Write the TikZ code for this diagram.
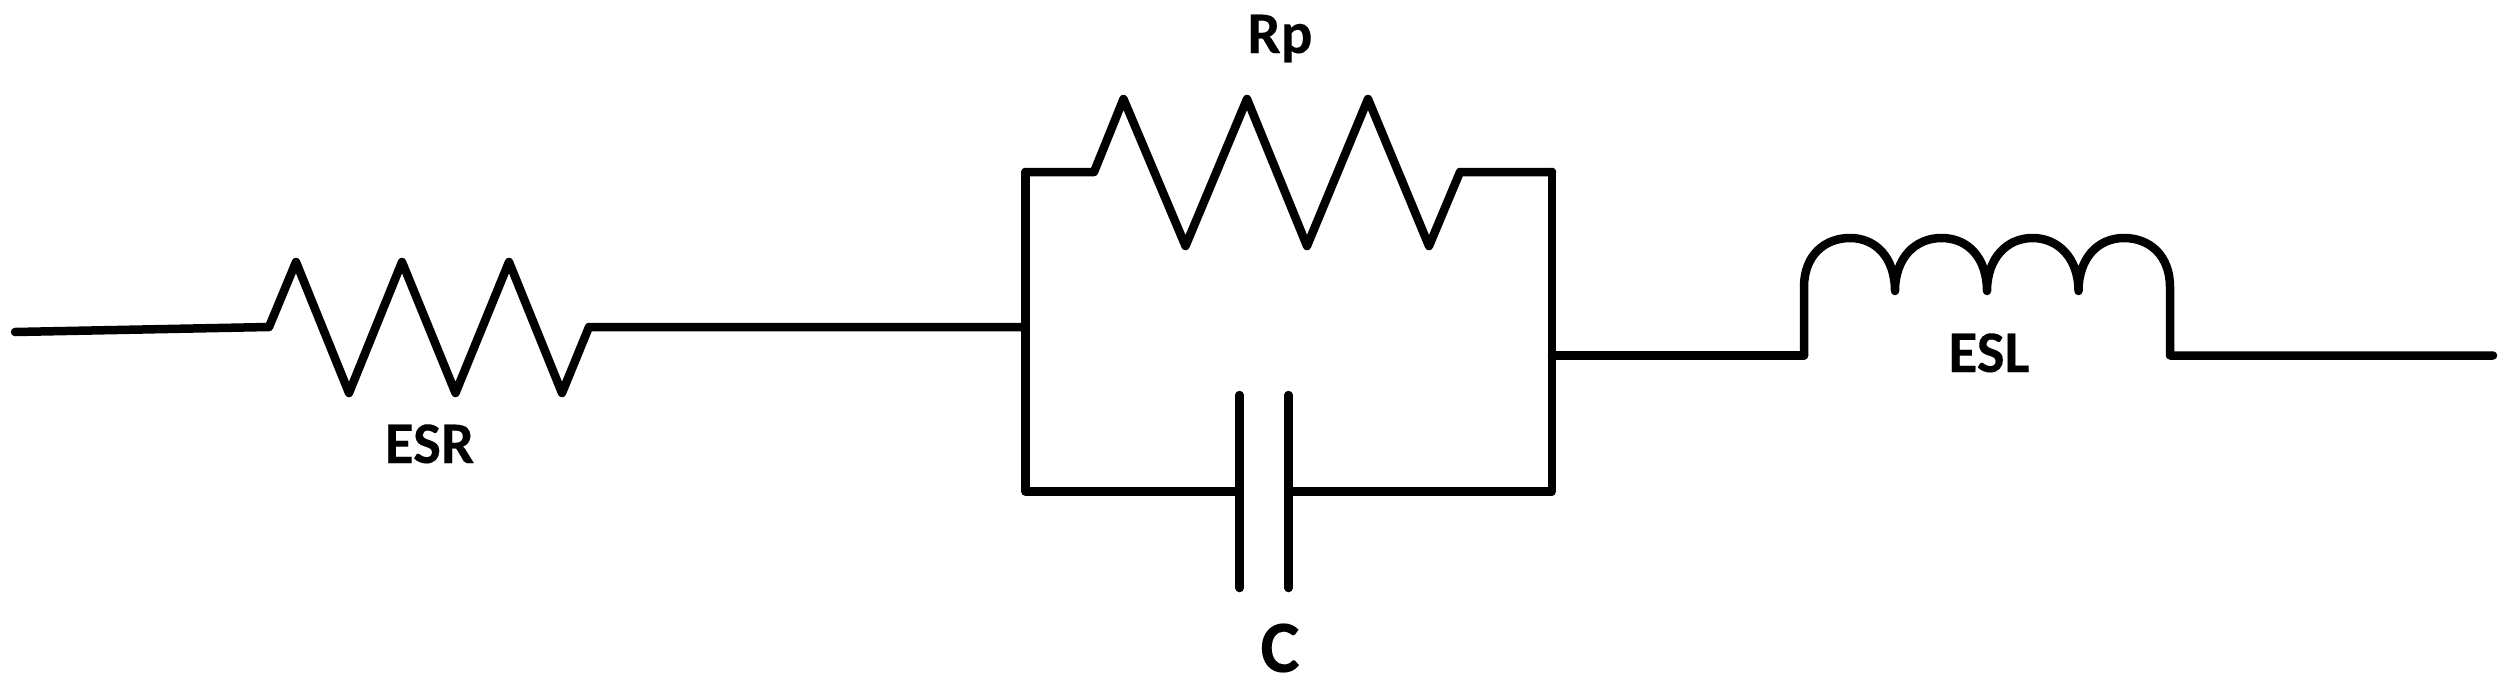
\documentclass[tikz,border=0pt]{standalone}
\usepackage{fontspec}
\setmainfont[BoldFeatures={FakeBold=0.15}]{Carlito}
\tikzset{
  wire/.style={draw=black,line width=8.5pt,line cap=round,line join=round},
  lbl/.style={inner sep=0pt,outer sep=0pt,anchor=base,text=black,font=\fontsize{59}{59}\selectfont\bfseries},
  lblbig/.style={lbl,font=\fontsize{74}{74}\selectfont\bfseries}
}
\begin{document}
\begin{tikzpicture}[x=1pt,y=-1pt]
\useasboundingbox (0,0) rectangle (2514,694);
% terminals
\coordinate (in) at (15,332);
\coordinate (esrA) at (269,327);
\coordinate (esrB) at (589,327);
\coordinate (nodeL) at (1025.5,327);
\coordinate (topL) at (1025.5,172);
\coordinate (botL) at (1025.5,491.5);
\coordinate (topR) at (1552,172);
\coordinate (botR) at (1552,491.5);
\coordinate (nodeR) at (1552,355.5);
\coordinate (rpA) at (1094,172);
\coordinate (rpB) at (1460,172);
\coordinate (capL) at (1239.5,491.5);
\coordinate (capR) at (1288.5,491.5);
\coordinate (capLt) at (1239.5,395);
\coordinate (capLb) at (1239.5,588);
\coordinate (capRt) at (1288.5,395);
\coordinate (capRb) at (1288.5,588);
\coordinate (eslA) at (1804,355.5);
\coordinate (eslB) at (2170,355.5);
\coordinate (out) at (2493,355.5);
% ESR
\draw[wire] (in) -- (esrA) -- (296,262) -- (349,393) -- (402,262) -- (455.5,393) -- (509,262) -- (562,393) -- (esrB) -- (nodeL);
% parallel network
\draw[wire] (topL) -- (rpA) -- (1123.5,99) -- (1185.5,246) -- (1247,99) -- (1307,246) -- (1368,99) -- (1429,246) -- (rpB) -- (topR);
\draw[wire] (topL) -- (botL) -- (capL);
\draw[wire] (topR) -- (botR) -- (capR);
\draw[wire] (capLt) -- (capLb);
\draw[wire] (capRt) -- (capRb);
\draw[wire] (nodeR) -- (eslA);
% ESL
\draw[wire] (eslA) -- (1804,287)
  .. controls (1804,256) and (1824,238) .. (1850,238)
  .. controls (1876,238) and (1895,258) .. (1895,291)
  .. controls (1895,258) and (1915,238) .. (1941.5,238)
  .. controls (1968,238) and (1987,258) .. (1987,291)
  .. controls (1987,258) and (2007,238) .. (2032.5,238)
  .. controls (2058,238) and (2078.5,258) .. (2078.5,291)
  .. controls (2078.5,258) and (2098,238) .. (2124,238)
  .. controls (2150,238) and (2170,256) .. (2170,287)
  -- (eslB) -- (out);
% labels
\node[lbl] (esrlabel) at (429.5,463) {ESR};
\node[lbl] (rplabel) at (1280,53) {Rp};
\node[lblbig] (clabel) at (1280,672) {C};
\node[lbl] (esllabel) at (1989,372) {ESL};
\end{tikzpicture}
\end{document}
